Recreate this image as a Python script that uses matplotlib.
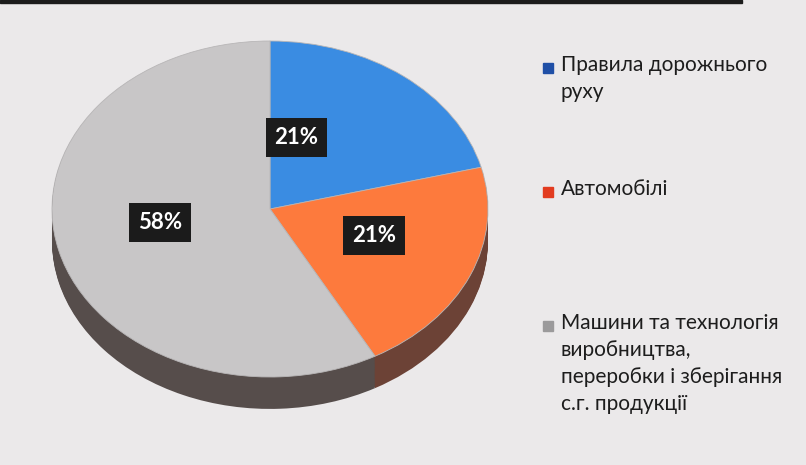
import numpy as np
import matplotlib.pyplot as plt
from matplotlib.patches import Rectangle

plt.rcParams['font.family'] = ['Lato', 'DejaVu Sans']

# data
categories = ["Правила дорожнього\nруху",
              "Автомобілі",
              "Машини та технологія\nвиробництва,\nпереробки і зберігання\nс.г. продукції"]
shares = [21, 21, 58]
top_colors = ["#3a8ce2", "#fd7a3d", "#c8c6c7"]
side_colors = ["#2b4f86", "#6c4236", "#564d4b"]
legend_colors = ["#1f4fa6", "#e23b1f", "#9b9a9b"]

W, H = 806, 465
fig = plt.figure(figsize=(W / 100, H / 100), dpi=100)
fig.patch.set_facecolor("#ebe9ea")

# photo edge at the top
fig.patches.append(Rectangle((0, 1 - 3 / H), 0.92, 3 / H, transform=fig.transFigure,
                             color="#1c1c1c", zorder=0))

# pie axes: 1 data unit = 218 px across, 168 px down (tilted look)
rx, ry = 218, 168
cx, cy = 270, 209
ax = fig.add_axes([(cx - 1.25 * rx) / W, (H - cy - 1.25 * ry) / H,
                   2.5 * rx / W, 2.5 * ry / H])

depth = 0.19
for d in np.linspace(depth, 0.005, 30):
    ax.pie(shares, colors=side_colors, startangle=90, counterclock=False,
           center=(0, -d), wedgeprops=dict(linewidth=0))

wedges, _, autotexts = ax.pie(
    shares, colors=top_colors, startangle=90, counterclock=False,
    autopct="%d%%", pctdistance=0.52,
    wedgeprops=dict(linewidth=0.6, edgecolor="#b8b6b7"),
    textprops=dict(color="white", fontsize=16, fontweight="bold"))

for t in autotexts:
    t.set_bbox(dict(boxstyle="square,pad=0.4", facecolor="#1b1b1b", edgecolor="none"))
# the first label sits nearer the middle of its slice
x0, y0 = autotexts[0].get_position()
autotexts[0].set_position((x0 * 0.38, y0 * 1.04))
for t in autotexts[1:]:
    x, y = t.get_position()
    t.set_position((x, y + 0.05))

ax.set_aspect("auto")
ax.set_xlim(-1.25, 1.25)
ax.set_ylim(-1.25, 1.25)
ax.axis("off")

# legend drawn by hand, one entry per category
entry_tops = [55, 179, 313]
for label, col, ytop in zip(categories, legend_colors, entry_tops):
    fig.patches.append(Rectangle((543 / W, 1 - (ytop + 18) / H), 10 / W, 10 / H,
                                 transform=fig.transFigure, color=col))
    fig.text(561 / W, 1 - ytop / H, label, fontsize=15, color="#1d1d1d",
             va="top", ha="left", linespacing=1.43)

fig.savefig("out.png", dpi=100, facecolor=fig.get_facecolor())
